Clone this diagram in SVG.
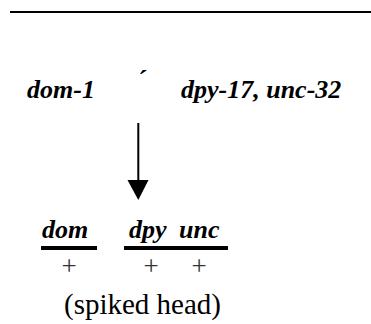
<svg xmlns="http://www.w3.org/2000/svg" width="371" height="324" viewBox="0 0 371 324">
<style>
text{font-family:'Liberation Serif','Times New Roman',serif}
.bi{font-weight:bold;font-style:italic;font-size:26px;fill:#000}
.r{font-size:29px;fill:#000}
.p{font-size:27px;fill:#333;text-anchor:middle}
.ul{fill:#000}
.conn{stroke:#000;stroke-width:2;fill:none}
</style>
<rect width="371" height="324" fill="#fff"/>
<line x1="10" y1="12" x2="371" y2="12" stroke="#000" stroke-width="2"/>
<g id="cross-left"><text class="bi" x="27" y="98">dom-1</text></g>
<g id="cross-mark"><text class="bi" x="137" y="88">´</text></g>
<g id="cross-right"><text class="bi" x="181" y="98">dpy-17, unc-32</text></g>
<g id="connectors">
<line class="conn" x1="138.3" y1="123" x2="138.3" y2="182"/>
<polygon points="127.5,180 148.5,180 138.3,200" fill="#000"/>
</g>
<g id="chrom-dom">
<text class="bi" x="42" y="238">dom</text>
<rect class="ul" x="41" y="246" width="56" height="4"/>
<text class="p" x="69" y="275">+</text>
</g>
<g id="chrom-dpy-unc">
<text class="bi" x="129" y="238">dpy</text>
<text class="bi" x="179" y="238">unc</text>
<rect class="ul" x="124" y="246" width="104" height="4"/>
<text class="p" x="151" y="275">+</text>
<text class="p" x="199" y="275">+</text>
</g>
<g id="phenotype"><text class="r" x="64" y="314">(spiked head)</text></g>
</svg>
